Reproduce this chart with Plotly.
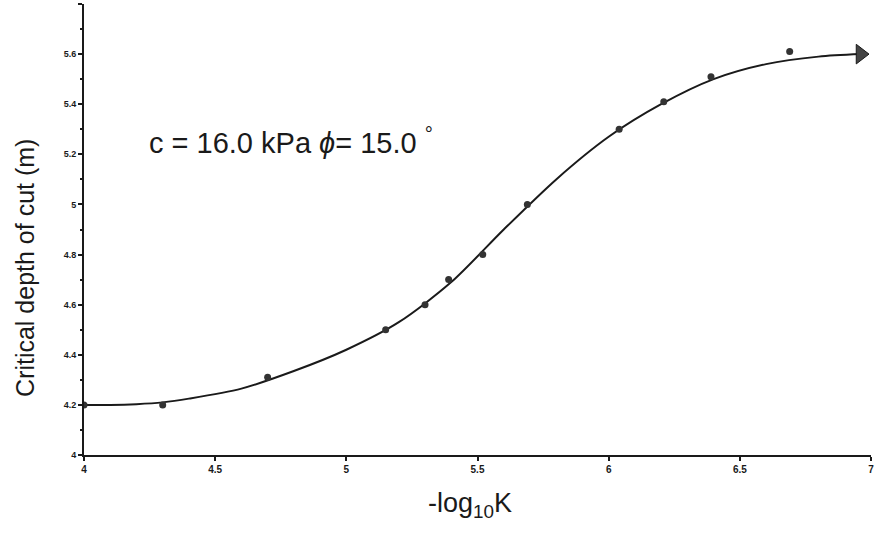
import plotly.graph_objects as go

# measured data points (-log10 K, critical depth of cut in m)
x_pts = [4.00, 4.30, 4.70, 5.15, 5.30, 5.39, 5.52, 5.69, 6.04, 6.21, 6.39, 6.69]
y_pts = [4.20, 4.20, 4.31, 4.50, 4.60, 4.70, 4.80, 5.00, 5.30, 5.41, 5.51, 5.61]

# fitted curve (ends in an arrow head)
x_curve = [4.0, 4.1, 4.2, 4.3, 4.4, 4.6, 4.8, 5.0, 5.2, 5.4, 5.6, 5.8, 6.0, 6.2, 6.4, 6.6, 6.8, 6.96]
y_curve = [4.200, 4.200, 4.203, 4.210, 4.225, 4.265, 4.335, 4.42, 4.53, 4.69, 4.90, 5.10, 5.27, 5.40, 5.50, 5.56, 5.59, 5.60]

x_ticks = [4, 4.5, 5, 5.5, 6, 6.5, 7]
x_ticklabels = ["4", "4.5", "5", "5.5", "6", "6.5", "7"]
y_ticks = [4, 4.2, 4.4, 4.6, 4.8, 5, 5.2, 5.4, 5.6, 5.8]
y_ticklabels = ["4", "4.2", "4.4", "4.6", "4.8", "5", "5.2", "5.4", "5.6", "5.8"]

FONT = "Liberation Sans, Arial, Helvetica, sans-serif"
INK = "#1a1a1a"
L, R, T, B = 84, 11, 4, 80
W, H = 882, 535

fig = go.Figure()
fig.add_trace(go.Scatter(x=x_curve, y=y_curve, mode="lines",
                         line=dict(color=INK, width=2, shape="spline", smoothing=0.8), showlegend=False))
fig.add_trace(go.Scatter(x=x_pts, y=y_pts, mode="markers", marker=dict(color="#333333", size=7), showlegend=False))
# arrow head at the end of the curve
fig.add_trace(go.Scatter(x=[x_curve[-1]], y=[y_curve[-1]], mode="markers",
                         marker=dict(symbol="triangle-right", size=17, color="#444444",
                                     line=dict(color=INK, width=1)), showlegend=False))

fig.add_annotation(x=4.24, y=5.255, xref="x", yref="y", xanchor="left", yanchor="middle", showarrow=False,
                   text="c = 16.0 kPa <i>ϕ</i>= 15.0 <sup>°</sup>", font=dict(family=FONT, size=29, color=INK))

# axis titles, placed by pixel position converted to paper coordinates
pw, ph = W - L - R, H - T - B
def px(xp):
    return (xp - L) / pw
def py(yp):
    return (H - B - yp) / ph

fig.add_annotation(x=px(25), y=py(268), xref="paper", yref="paper", xanchor="center", yanchor="middle",
                   showarrow=False, textangle=-90,
                   text="Critical depth of cut (m)", font=dict(family=FONT, size=25, color=INK))
fig.add_annotation(x=px(470), y=py(505), xref="paper", yref="paper", xanchor="center", yanchor="middle",
                   showarrow=False,
                   text="-log<sub>10</sub>K", font=dict(family=FONT, size=27, color=INK))

fig.update_layout(
    width=W, height=H,
    margin=dict(l=L, r=R, t=T, b=B),
    paper_bgcolor="white", plot_bgcolor="white",
    font=dict(family=FONT, color=INK),
)

fig.update_xaxes(range=[4, 7], tickvals=x_ticks, ticktext=x_ticklabels, showgrid=False, zeroline=False,
                 showline=True, linecolor=INK, linewidth=2, ticks="outside", ticklen=4, tickwidth=1.5, tickcolor=INK,
                 tickfont=dict(size=10, family="Liberation Sans Narrow, Liberation Sans, Arial", color=INK, weight="bold"))
fig.update_yaxes(range=[4, 5.8], tickvals=y_ticks, ticktext=y_ticklabels, showgrid=False, zeroline=False,
                 showline=True, linecolor=INK, linewidth=2, ticks="outside", ticklen=4, tickwidth=1.5, tickcolor=INK,
                 minor=dict(dtick=0.1, ticks="outside", ticklen=2, tickcolor=INK),
                 tickfont=dict(size=9, family="Liberation Sans Narrow, Liberation Sans, Arial", color=INK, weight="bold"))

fig.write_html("out.html")
